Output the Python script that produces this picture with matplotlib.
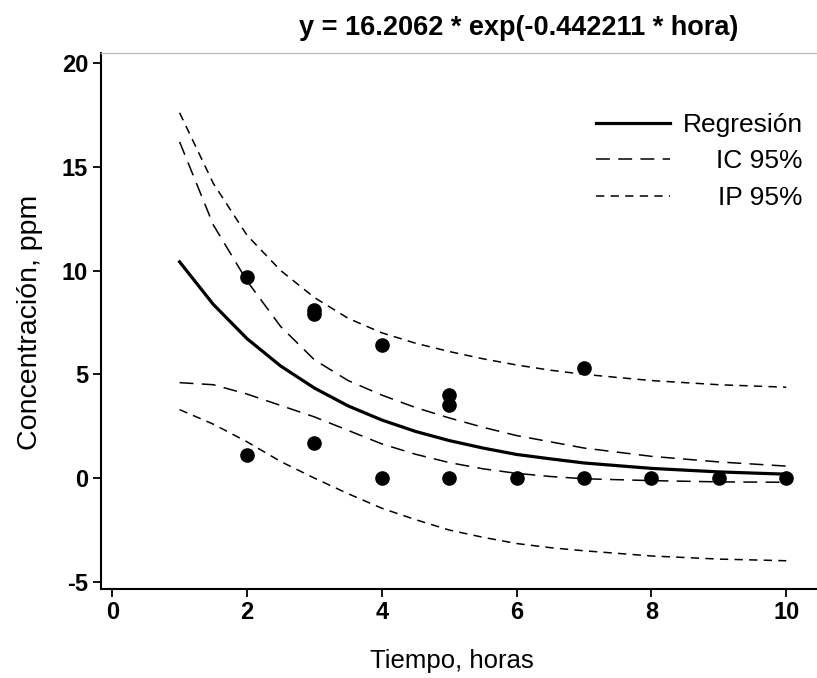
import matplotlib
matplotlib.use('Agg')
import matplotlib.pyplot as plt
import numpy as np

plt.rcParams['font.family'] = ['Liberation Sans', 'DejaVu Sans']
plt.rcParams['lines.scale_dashes'] = False
plt.rcParams['axes.unicode_minus'] = False

# observed data
hora = [2, 2, 3, 3, 3, 4, 4, 5, 5, 5, 6, 7, 7, 8, 9, 10]
conc = [9.7, 1.1, 8.1, 7.9, 1.7, 6.4, 0.0, 4.0, 3.5, 0.0, 0.0, 5.3, 0.0, 0.0, 0.0, 0.0]

# curves
xc = [1, 1.5, 2, 2.5, 3, 3.5, 4, 4.5, 5, 5.5, 6, 6.5, 7, 8, 9, 10]
reg = [10.42, 8.37, 6.72, 5.40, 4.34, 3.48, 2.80, 2.25, 1.81, 1.45, 1.14, 0.93, 0.73, 0.47, 0.30, 0.19]
ic_up = [16.2, 12.2, 9.5, 7.3, 5.7, 4.7, 4.0, 3.4, 2.9, 2.45, 2.05, 1.75, 1.45, 1.05, 0.78, 0.58]
ic_lo = [4.6, 4.5, 4.05, 3.5, 2.95, 2.3, 1.65, 1.15, 0.75, 0.45, 0.23, 0.08, -0.03, -0.12, -0.18, -0.2]
ip_up = [17.6, 14.2, 11.7, 10.0, 8.7, 7.7, 7.0, 6.5, 6.1, 5.75, 5.45, 5.2, 5.0, 4.7, 4.5, 4.38]
ip_lo = [3.3, 2.6, 1.75, 0.8, 0.0, -0.75, -1.45, -2.0, -2.5, -2.85, -3.15, -3.35, -3.5, -3.75, -3.9, -3.98]

xticks = [0, 2, 4, 6, 8, 10]
yticks = [-5, 0, 5, 10, 15, 20]

fig = plt.figure(figsize=(8.17, 6.78), dpi=100)
ax = fig.add_axes([0.1233, 0.1313, 0.877, 0.7905])

ic_style = (0, (10, 6))
ip_style = (0, (6, 4.5))

ax.plot(xc, reg, color='black', lw=2.3, label='Regresión')
ax.plot(xc, ic_up, color='black', lw=1.1, ls=ic_style, label='IC 95%')
ax.plot(xc, ic_lo, color='black', lw=1.1, ls=ic_style)
ax.plot(xc, ip_up, color='black', lw=1.1, ls=ip_style, label='IP 95%')
ax.plot(xc, ip_lo, color='black', lw=1.1, ls=ip_style)
ax.plot(hora, conc, 'o', color='black', ms=9.5, zorder=5)

ax.set_xlim(-0.17, 10.46)
ax.set_ylim(-5.34, 20.48)
ax.set_xticks(xticks)
ax.set_yticks(yticks)
ax.tick_params(direction='out', length=5.5, width=1.3, labelsize=17)
ax.tick_params(axis='x', pad=3)
ax.tick_params(axis='y', pad=3.5)
for lab in ax.get_xticklabels() + ax.get_yticklabels():
    lab.set_fontweight('bold')

ax.spines['right'].set_visible(False)
ax.spines['top'].set_color('#c0c0c0')
ax.spines['top'].set_linewidth(1.0)
ax.spines['left'].set_linewidth(1.5)
ax.spines['bottom'].set_linewidth(1.5)

fig.text(0.635, 0.959, 'y = 16.2062 * exp(-0.442211 * hora)', ha='center', va='center',
         fontsize=19.5, fontweight='bold')
fig.text(0.553, 0.025, 'Tiempo, horas', ha='center', va='center', fontsize=18.5)
fig.text(0.037, 0.525, 'Concentración, ppm', ha='center', va='center', rotation=90, fontsize=20.5)

leg = ax.legend(loc='upper right', bbox_to_anchor=(0.98, 0.888), frameon=False,
                fontsize=19, handlelength=2.8, handletextpad=0.5, labelspacing=0.47,
                borderpad=0, borderaxespad=0)
fig.canvas.draw()
renderer = fig.canvas.get_renderer()
widths = [t.get_window_extent(renderer).width for t in leg.get_texts()]
for t, w in zip(leg.get_texts(), widths):
    t.set_position((max(widths) - w, 0))

plt.savefig('out.png', dpi=100)
